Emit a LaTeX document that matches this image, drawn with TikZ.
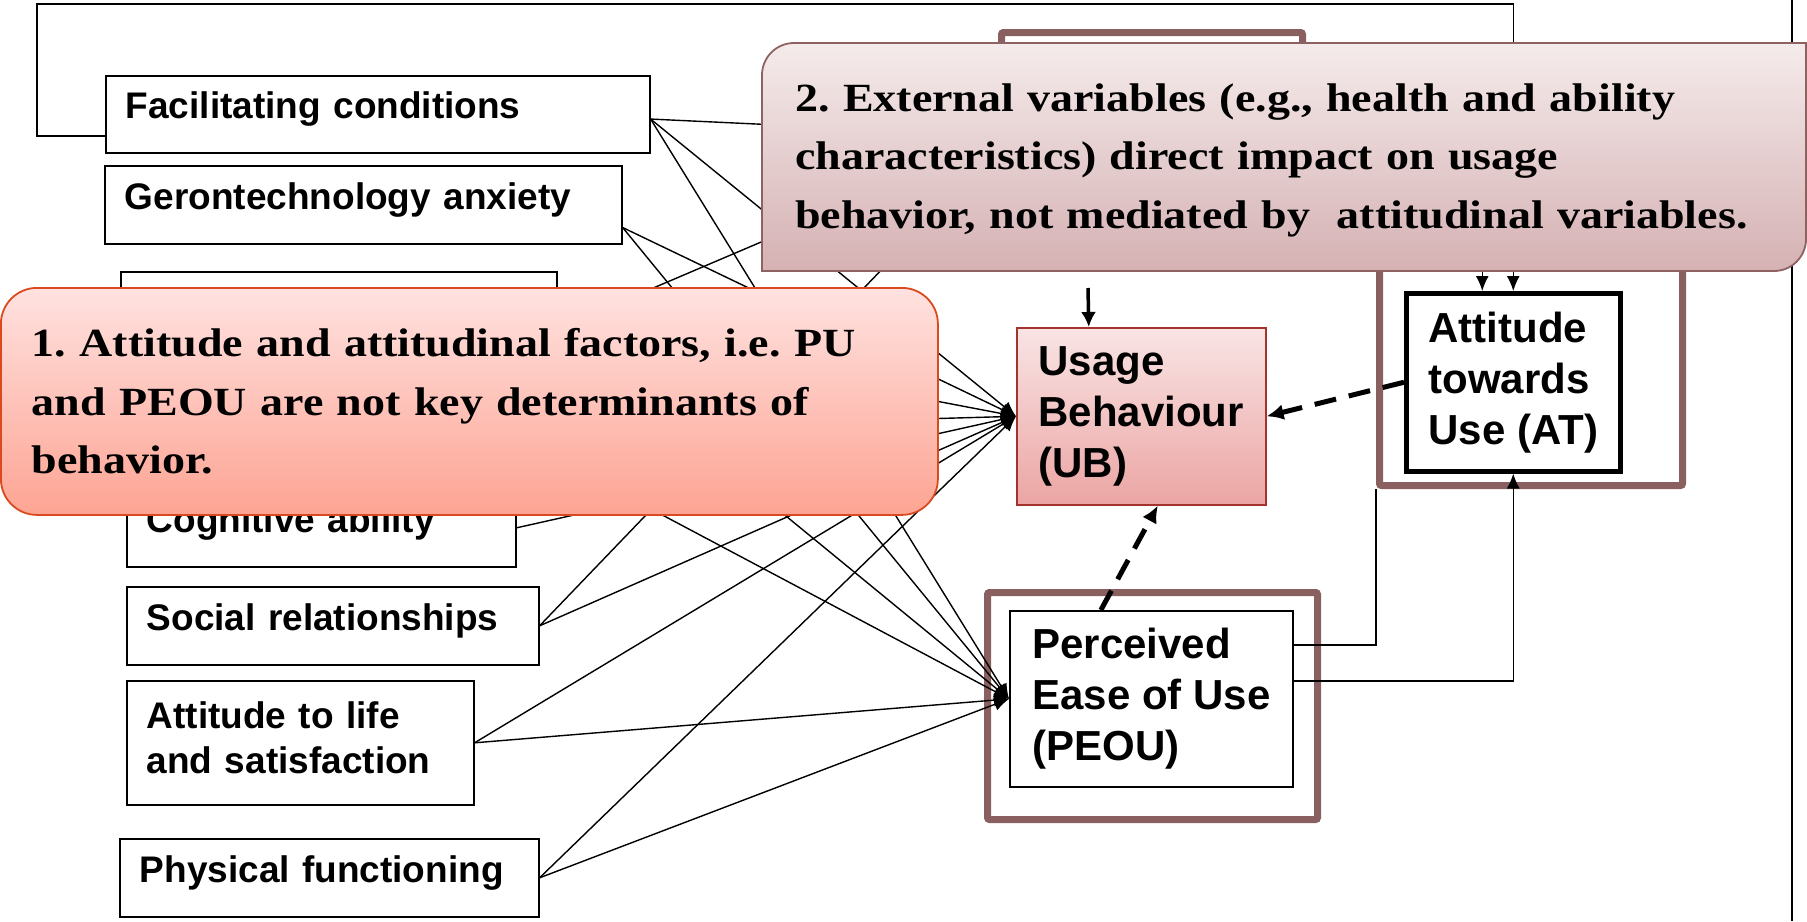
\documentclass[tikz,border=0pt]{standalone}
\usepackage{fontspec}
\setmainfont{Liberation Sans}
\newfontfamily\notefont[FakeStretch=1.15]{Liberation Serif}
\usetikzlibrary{arrows.meta}

\definecolor{framebrown}{HTML}{8A5F5F}
\definecolor{ubtop}{HTML}{F9E4E5}
\definecolor{ubbot}{HTML}{EBA5A3}
\definecolor{ubedge}{HTML}{A3332C}
\definecolor{notetop}{HTML}{FFE2E0}
\definecolor{notebot}{HTML}{FDA493}
\definecolor{noteedge}{HTML}{DA4A1E}
\definecolor{exttop}{HTML}{F5EBEB}
\definecolor{extbot}{HTML}{D5B1B3}
\definecolor{extedge}{HTML}{8E6262}

\begin{document}
\begin{tikzpicture}[x=1pt, y=-1pt,
    factor/.style={draw, line width=1.6pt, anchor=north west, inner xsep=20pt, inner ysep=0pt,
      align=left, font=\bfseries\fontsize{37}{45}\selectfont,
      execute at end node={\endgraf\kern10pt\hrule height0pt width0pt}},
    construct/.style={draw, line width=1.8pt, anchor=north west, inner sep=0pt,
      align=left, font=\bfseries\fontsize{42}{51}\selectfont},
    brownframe/.style={draw=framebrown, line width=7pt, rounded corners=2pt, anchor=north west, inner sep=0pt},
    link/.style={line width=1.4pt, -{Latex[length=15pt,width=13pt]}},
    dashlink/.style={line width=5pt, dash pattern=on 22pt off 13pt, -{Latex[length=17pt,width=16pt]}},
    notetext/.style={font=\notefont\bfseries\frenchspacing\fontsize{40}{58.5}\selectfont, align=left, inner sep=0pt}]
    \useasboundingbox (0,0) rectangle (1807,921);

    % Factors (left)
    \node[factor, text width=504pt, minimum height=77pt] (fac) at (105,75) {Facilitating conditions};
    \node[factor, text width=477pt, minimum height=78pt] (ger) at (104,165) {Gerontechnology anxiety};
    \node[factor, text width=396pt, minimum height=114pt] (hida) at (120,271) {};
    \node[factor, text width=336pt, minimum height=70pt] (hidb) at (126,395) {};
    \node[factor, text width=349pt, minimum height=78pt] (cog) at (126,488) {Cognitive ability};
    \node[factor, text width=372pt, minimum height=78pt] (soc) at (126,586) {Social relationships};
    \node[factor, text width=307pt, minimum height=124pt] (life) at (126,680) {Attitude to life\\and satisfaction};
    \node[factor, text width=379pt, minimum height=78pt] (phys) at (119,838) {Physical functioning};

    % Constructs (right)
    \node[brownframe, minimum width=301pt, minimum height=221pt] (puframe) at (998,29) {};
    \node[construct, minimum width=280pt, minimum height=170pt] (pu) at (1010,50) {};
    \node[construct, draw=ubedge, line width=1.6pt, top color=ubtop, bottom color=ubbot,
      minimum width=249pt, minimum height=177pt] (ub) at (1016,327) {Usage\\Behaviour\\(UB)};
    \node[brownframe, minimum width=330pt, minimum height=227pt] (peouframe) at (984,589) {};
    \node[construct, minimum width=283pt, minimum height=176pt] (peou) at (1009,610) {Perceived\\Ease of Use\\(PEOU)};
    \node[brownframe, minimum width=303pt, minimum height=232pt] (atframe) at (1376,250) {};
    \node[construct, line width=4.5pt, minimum width=214pt, minimum height=178pt] (at) at (1404,291) {Attitude\\towards\\Use (AT)};

    % Connectors
    \foreach \src in {fac.-1.5, hida.east, soc.east}
      \draw[link] (\src) -- (pu.west);
    \foreach \src in {fac.-1.5, ger.-5, hida.east, hidb.east, cog.east, soc.east, life.east, phys.east}
      \draw[link] (\src) -- (ub.west);
    \foreach \src in {fac.-1.5, ger.-5, hida.east, hidb.east, life.east, phys.east}
      \draw[link] (\src) -- (peou.west);

    \coordinate (loopcorner) at (37,4);
    \coordinate (ubcue) at (1088,288);
    \draw[link] ([yshift=-21.5pt]fac.west) -| (loopcorner) -| (at.north);
    \draw[link] (pu.east) -| ([xshift=-31pt]at.north);
    \draw[link] ([yshift=18pt]peou.east) -| (at.south);
    \draw[line width=1.4pt] ([yshift=54pt]peou.east) -| (atframe.south west);
    \draw[line width=3.5pt, -{Latex[length=15pt,width=15pt]}] (ubcue) -- ([xshift=-52.5pt]ub.north);
    \draw[dashlink] (at.west) -- (ub.east);
    \draw[dashlink] ([xshift=-50.5pt]peou.north) -- ([xshift=16.5pt]ub.south);

    \draw[line width=1.2pt] (1792,0) -- (1792,921);

    % Note 1
    \node[notetext, draw=noteedge, line width=1.8pt, rounded corners=36pt, top color=notetop, bottom color=notebot,
      anchor=north west, minimum width=937pt, minimum height=227pt, text width=875pt, inner xsep=31pt] (attnote) at (0,287)
      {1. Attitude and attitudinal factors, i.e. PU\\and PEOU are not key determinants of\\behavior.};

    % Note 2
    \path[draw=extedge, line width=1.8pt, top color=exttop, bottom color=extbot]
      (762,271) -- (762,75) arc[start angle=180, end angle=90, radius=32pt]
      -- (1806,43) -- (1806,239) arc[start angle=0, end angle=-90, radius=32pt] -- cycle;
    \node[notetext, anchor=west, text width=1000pt] (extnote) at (795,160)
      {2. External variables (e.g., health and ability\\characteristics) direct impact on usage\\behavior, not mediated by\ \ attitudinal variables.};
  \end{tikzpicture}
\end{document}
